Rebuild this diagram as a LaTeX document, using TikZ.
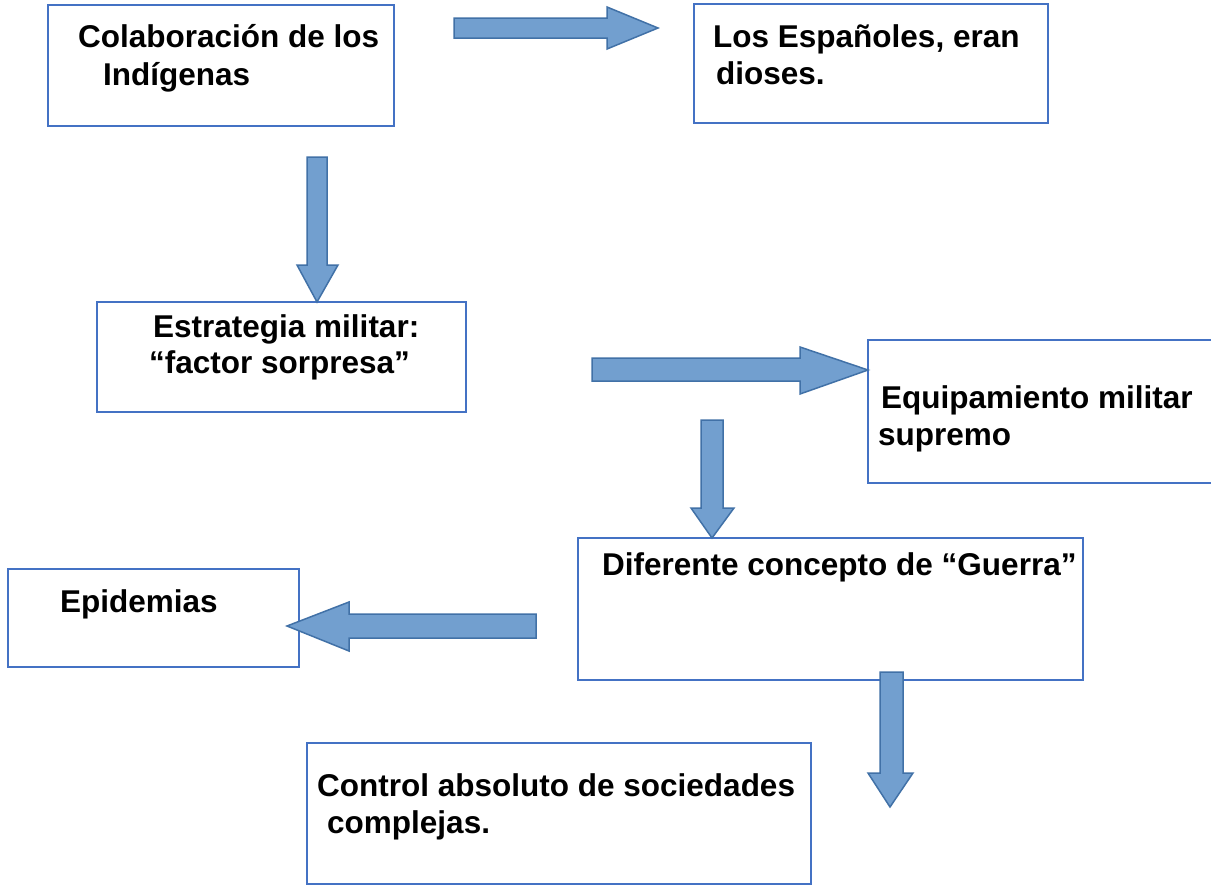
\documentclass[tikz,border=0pt]{standalone}
\usepackage{fontspec}
\setmainfont{Liberation Sans}
\definecolor{boxline}{RGB}{68,114,196}
\definecolor{arrfill}{RGB}{114,159,207}
\definecolor{arrline}{RGB}{65,113,167}
\tikzset{
  boxframe/.style={draw=boxline, line width=1.5pt, fill=white},
  lbl/.style={anchor=base west, inner sep=0pt, font=\fontsize{31.5}{36}\selectfont\bfseries, text=black},
  blockarrow/.style={draw=arrline, fill=arrfill, line width=1.5pt, line join=miter}
}
\begin{document}
\begin{tikzpicture}[x=1pt,y=-1pt]
\useasboundingbox (0,0) rectangle (1211,886);
\fill[white] (0,0) rectangle (1211,886);

% boxes
\draw[boxframe] (48,5) rectangle (394,126);
\draw[boxframe] (694,4) rectangle (1048,123);
\draw[boxframe] (97,302) rectangle (466,412);
\draw[boxframe] (868,340) rectangle (1216,483);
\draw[boxframe] (578,538) rectangle (1083,680);
\draw[boxframe] (8,569) rectangle (299,667);
\draw[boxframe] (307,743) rectangle (811,884);

% labels
\node[lbl] (a1) at (78,47) {Colaboración de los};
\node[lbl] (a2) at (103,85) {Indígenas};
\node[lbl] (b1) at (713,47) {Los Españoles, eran};
\node[lbl] (b2) at (716,84) {dioses.};
\node[lbl] (c1) at (153,337) {Estrategia militar:};
\node[lbl] (c2) at (149,373) {“factor sorpresa”};
\node[lbl] (d1) at (881,408) {Equipamiento militar};
\node[lbl] (d2) at (878,445) {supremo};
\node[lbl] (e1) at (602,575) {Diferente concepto de “Guerra”};
\node[lbl] (f1) at (60,612) {Epidemias};
\node[lbl] (g1) at (317,796) {Control absoluto de sociedades};
\node[lbl] (g2) at (327,833) {complejas.};

% block arrows
% right arrow top
\draw[blockarrow] (454,18) -- (607,18) -- (607,7) -- (658,28) -- (607,49) -- (607,38) -- (454,38) -- cycle;
% down arrow left
\draw[blockarrow] (307,157) -- (327,157) -- (327,265) -- (338,265) -- (317,302) -- (297,265) -- (307,265) -- cycle;
% right arrow middle
\draw[blockarrow] (592,358) -- (800,358) -- (800,347) -- (868,370) -- (800,394) -- (800,381) -- (592,381) -- cycle;
% down arrow middle
\draw[blockarrow] (701,420) -- (723,420) -- (723,508) -- (734,508) -- (712,538) -- (691,508) -- (701,508) -- cycle;
% left arrow
\draw[blockarrow] (536,614) -- (349,614) -- (349,602) -- (287,626) -- (349,651) -- (349,638) -- (536,638) -- cycle;
% down arrow right
\draw[blockarrow] (880,672) -- (903,672) -- (903,773) -- (913,773) -- (890,807) -- (868,773) -- (880,773) -- cycle;
\end{tikzpicture}
\end{document}
